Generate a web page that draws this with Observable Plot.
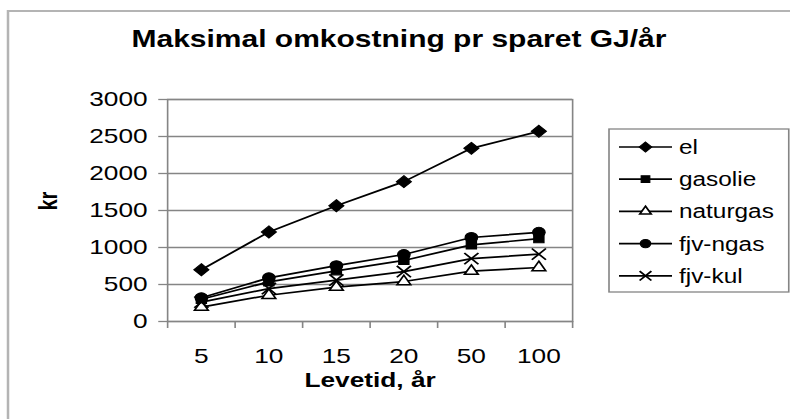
<!DOCTYPE html>
<html><head><meta charset="utf-8">
<script src="https://cdn.jsdelivr.net/npm/d3@7"></script>
<script src="https://cdn.jsdelivr.net/npm/@observablehq/plot@0.6"></script>
<style>
html,body{margin:0;padding:0;background:#fff;overflow:hidden}
#wrap{position:relative;width:632px;height:419px;transform:scaleX(1.25);transform-origin:0 0}
</style>
</head><body>
<div id="wrap"></div>
<script>
const title = "Maksimal omkostning pr sparet GJ/år";
const xTitle = "Levetid, år";
const yTitle = "kr";
const years = ["5", "10", "15", "20", "50", "100"];
const yTicks = [0, 500, 1000, 1500, 2000, 2500, 3000];
const series = ["el", "gasolie", "naturgas", "fjv-ngas", "fjv-kul"];
const el = [700, 1210, 1565, 1890, 2340, 2570];
const gasolie = [300, 535, 685, 825, 1035, 1120];
const naturgas = [195, 355, 465, 540, 680, 730];
const fjvNgas = [320, 590, 755, 905, 1135, 1205];
const fjvKul = [262, 445, 560, 675, 850, 910];
const values = [el, gasolie, naturgas, fjvNgas, fjvKul];

const FONT = '"Liberation Sans", Arial, Helvetica, sans-serif';
const GRAY = "#858585";
const symStyle = {
  "el": {symbol: "diamond2", fill: "black", r: 5.4, strokeWidth: 1},
  "gasolie": {symbol: "square", fill: "black", r: 4.6, strokeWidth: 1},
  "naturgas": {symbol: "triangle2", fill: "white", r: 5.2, strokeWidth: 1.5},
  "fjv-ngas": {symbol: "circle", fill: "black", r: 5, strokeWidth: 1},
  "fjv-kul": {symbol: "times", fill: "none", r: 5.2, strokeWidth: 1.6}
};
const symMap = {diamond2: d3.symbolDiamond2, square: d3.symbolSquare, triangle2: d3.symbolTriangle2, circle: d3.symbolCircle, times: d3.symbolTimes};

const rows = series.flatMap((s, k) => values[k].map((v, i) => ({s, i, v})));

const marks = [
  Plot.gridY(yTicks, {stroke: GRAY, strokeOpacity: 1, strokeWidth: 1.3}),
  Plot.frame({stroke: GRAY, strokeWidth: 1.3}),
  Plot.axisY(yTicks, {tickSize: 7, tickPadding: 9, stroke: GRAY, strokeWidth: 1.3, label: null, fontSize: 21, tickFormat: d => String(d)}),
  Plot.axisX(d3.range(years.length), {tickSize: 0, tickPadding: 27, tickFormat: i => years[i], label: null, fontSize: 21}),
  Plot.axisX(d3.range(years.length + 1).map(i => i - 0.5), {tickSize: 7, tickFormat: () => "", stroke: GRAY, strokeWidth: 1.3, label: null}),
  Plot.line(rows, {x: "i", y: "v", z: "s", stroke: "black", strokeWidth: 1.7})
];
for (const s of series) {
  const st = symStyle[s];
  marks.push(Plot.dot(rows.filter(d => d.s === s), {x: "i", y: "v", symbol: () => st.symbol, fill: st.fill, stroke: "black", strokeWidth: st.strokeWidth, r: st.r}));
}
marks.push(Plot.text([xTitle], {frameAnchor: "bottom", dy: 65, fontWeight: "bold", fontSize: 21}));
marks.push(Plot.text([yTitle], {frameAnchor: "left", dx: -94.6, rotate: -90, fontWeight: "bold", fontSize: 20}));

const chart = Plot.plot({
  width: 632, height: 419,
  marginLeft: 133.6, marginRight: 174.4, marginTop: 99, marginBottom: 98,
  style: {fontFamily: FONT, fontSize: "21px", color: "black", background: "transparent", overflow: "visible"},
  x: {domain: [-0.5, years.length - 0.5]},
  y: {domain: [0, 3000]},
  symbol: {type: "identity"},
  marks
});
document.getElementById("wrap").appendChild(chart);

// decorations: outer border, title, legend
const svg = d3.select(chart);
svg.insert("path", ":first-child")
  .attr("d", "M6.4,425V11H640")
  .attr("fill", "none").attr("stroke", "#b4b4b4").attr("stroke-width", 2);
svg.append("text").text(title)
  .attr("x", 319.2).attr("y", 47).attr("text-anchor", "middle")
  .attr("font-family", FONT).attr("font-weight", "bold").attr("font-size", 24).attr("fill", "black");

const lg = svg.append("g");
lg.append("rect").attr("x", 487.2).attr("y", 129).attr("width", 143.8).attr("height", 163)
  .attr("fill", "white").attr("stroke", GRAY).attr("stroke-width", 1.3);
series.forEach((s, k) => {
  const y = 147 + k * 32.2;
  const st = symStyle[s];
  const g = lg.append("g");
  g.append("line").attr("x1", 495.2).attr("x2", 537.6).attr("y1", y).attr("y2", y)
    .attr("stroke", "black").attr("stroke-width", 1.7);
  g.append("path").attr("transform", `translate(516.4,${y})`)
    .attr("d", d3.symbol(symMap[st.symbol], Math.PI * st.r * st.r * 0.7)())
    .attr("fill", st.fill).attr("stroke", "black").attr("stroke-width", st.strokeWidth);
  g.append("text").text(s).attr("x", 543.2).attr("y", y).attr("dy", "0.36em")
    .attr("text-anchor", "start")
    .attr("font-family", FONT).attr("font-size", 19.5).attr("fill", "black");
});
</script>
</body></html>
